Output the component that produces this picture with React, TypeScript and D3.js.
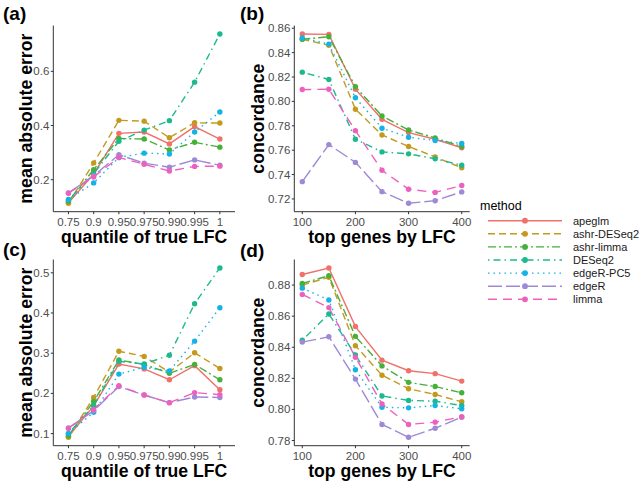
import React from "react";
import * as d3 from "d3";

const methods = ["apeglm", "ashr-DESeq2", "ashr-limma", "DESeq2", "edgeR-PC5", "edgeR", "limma"];
const colors = ["#F0706A", "#C49A1E", "#45B03A", "#1DB98E", "#13B3E6", "#9E89D6", "#EE60BE"];
const dashes = ["", "7,4", "8,3,2,3", "1.5,4,7,4", "1.5,4", "14,4", "9,6"];

const quantiles = ["0.75", "0.9", "0.95", "0.975", "0.99", "0.995", "1"];
const topGenes = [100, 150, 200, 250, 300, 350, 400];

// panel (a): mean absolute error by quantile
const maeA: number[][] = [
  [0.115, 0.221, 0.371, 0.376, 0.332, 0.396, 0.350],
  [0.113, 0.262, 0.419, 0.416, 0.355, 0.410, 0.409],
  [0.120, 0.237, 0.352, 0.350, 0.310, 0.338, 0.320],
  [0.125, 0.222, 0.342, 0.383, 0.418, 0.560, 0.738],
  [0.127, 0.188, 0.282, 0.298, 0.295, 0.376, 0.450],
  [0.151, 0.215, 0.292, 0.261, 0.246, 0.273, 0.253],
  [0.150, 0.210, 0.282, 0.257, 0.232, 0.249, 0.250],
];
// panel (b): concordance by top genes
const concB: number[][] = [
  [0.8553, 0.855, 0.810, 0.7853, 0.7744, 0.769, 0.762],
  [0.851, 0.846, 0.7936, 0.7725, 0.763, 0.7545, 0.7455],
  [0.851, 0.853, 0.812, 0.788, 0.7766, 0.770, 0.763],
  [0.824, 0.818, 0.769, 0.7586, 0.757, 0.753, 0.7476],
  [0.852, 0.847, 0.803, 0.778, 0.7706, 0.768, 0.7655],
  [0.7342, 0.7646, 0.750, 0.726, 0.7165, 0.7186, 0.7258],
  [0.8097, 0.810, 0.776, 0.7435, 0.728, 0.7254, 0.731],
];
// panel (c)
const maeC: number[][] = [
  [0.093, 0.169, 0.273, 0.261, 0.234, 0.269, 0.209],
  [0.091, 0.190, 0.305, 0.292, 0.253, 0.301, 0.262],
  [0.095, 0.180, 0.283, 0.272, 0.250, 0.272, 0.234],
  [0.100, 0.170, 0.280, 0.273, 0.295, 0.423, 0.512],
  [0.100, 0.153, 0.248, 0.265, 0.256, 0.330, 0.413],
  [0.114, 0.157, 0.217, 0.196, 0.177, 0.191, 0.190],
  [0.113, 0.160, 0.219, 0.196, 0.177, 0.202, 0.197],
];
// panel (d)
const concD: number[][] = [
  [0.8868, 0.891, 0.8533, 0.8317, 0.8249, 0.823, 0.8182],
  [0.880, 0.885, 0.841, 0.822, 0.8133, 0.8096, 0.8049],
  [0.881, 0.886, 0.847, 0.828, 0.8174, 0.8147, 0.8107],
  [0.8445, 0.8614, 0.835, 0.8086, 0.8058, 0.8053, 0.8025],
  [0.878, 0.8704, 0.8255, 0.8014, 0.801, 0.8025, 0.8004],
  [0.8433, 0.8467, 0.8195, 0.7903, 0.7821, 0.7879, 0.795],
  [0.874, 0.8655, 0.8336, 0.8035, 0.7903, 0.7918, 0.7953],
];

const ticksA = [0.2, 0.4, 0.6];
const ticksB = [0.72, 0.74, 0.76, 0.78, 0.8, 0.82, 0.84, 0.86];
const ticksC = [0.1, 0.2, 0.3, 0.4, 0.5];
const ticksD = [0.78, 0.8, 0.82, 0.84, 0.86, 0.88];
const ticksX = [100, 200, 300, 400];

const FONT = "'Liberation Sans', Arial, Helvetica, sans-serif";
const AXIS = "#333333";
const TICKTXT = "#4d4d4d";

function expandDomain(data: number[][]): [number, number] {
  const all = data.flat();
  const lo = d3.min(all) as number;
  const hi = d3.max(all) as number;
  const pad = (hi - lo) * 0.05;
  return [lo - pad, hi + pad];
}

type PanelProps = {
  label: string;
  data: number[][];
  discrete: boolean;
  yTicks: number[];
  yFmt: (v: number) => string;
  yTitle: string;
  xTitle: string;
  left: number;
  right: number;
  top: number;
  bottom: number;
  labelX: number;
  labelY: number;
  yTitleX: number;
};

function Panel(p: PanelProps) {
  const y = d3.scaleLinear().domain(expandDomain(p.data)).range([p.bottom, p.top]);
  let xs: number[];
  let xTickPos: { v: string; x: number }[];
  if (p.discrete) {
    const xp = d3.scalePoint<string>().domain(quantiles).range([p.left, p.right]).padding(0.6);
    xs = quantiles.map((q) => xp(q) as number);
    xTickPos = quantiles.map((q) => ({ v: q, x: xp(q) as number }));
  } else {
    const ext = d3.extent(topGenes) as [number, number];
    const pad = (ext[1] - ext[0]) * 0.05;
    const xl = d3.scaleLinear().domain([ext[0] - pad, ext[1] + pad]).range([p.left, p.right]);
    xs = topGenes.map((g) => xl(g));
    xTickPos = ticksX.map((t) => ({ v: String(t), x: xl(t) }));
  }
  const line = d3
    .line<number>()
    .x((_, i) => xs[i])
    .y((d) => y(d));
  const midY = (p.top + p.bottom) / 2;
  const midX = (p.left + p.right) / 2;
  return (
    <g>
      <text x={p.labelX} y={p.labelY} fontSize={19} fontWeight="bold" fontFamily={FONT} fill="#000">
        {p.label}
      </text>
      {p.data.map((row, i) => (
        <path
          key={"l" + i}
          d={line(row) as string}
          fill="none"
          stroke={colors[i]}
          strokeWidth={1.4}
          strokeDasharray={dashes[i] || undefined}
        />
      ))}
      {p.data.map((row, i) =>
        row.map((v, j) => <circle key={"p" + i + "-" + j} cx={xs[j]} cy={y(v)} r={2.7} fill={colors[i]} />)
      )}
      <line x1={p.left} x2={p.left} y1={p.top} y2={p.bottom} stroke={AXIS} strokeWidth={1} />
      <line x1={p.left} x2={p.right} y1={p.bottom} y2={p.bottom} stroke={AXIS} strokeWidth={1} />
      {p.yTicks.map((t) => (
        <g key={"yt" + t}>
          <line x1={p.left - 2.5} x2={p.left} y1={y(t)} y2={y(t)} stroke={AXIS} strokeWidth={1} />
          <text x={p.left - 4} y={y(t) + 4} fontSize={11.5} textAnchor="end" fontFamily={FONT} fill={TICKTXT}>
            {p.yFmt(t)}
          </text>
        </g>
      ))}
      {xTickPos.map((t) => (
        <g key={"xt" + t.v}>
          <line x1={t.x} x2={t.x} y1={p.bottom} y2={p.bottom + 2.5} stroke={AXIS} strokeWidth={1} />
          <text x={t.x} y={p.bottom + 14} fontSize={11.5} textAnchor="middle" fontFamily={FONT} fill={TICKTXT}>
            {t.v}
          </text>
        </g>
      ))}
      <text
        x={0}
        y={0}
        transform={`translate(${p.yTitleX},${midY}) rotate(-90)`}
        fontSize={17.7}
        fontWeight="bold"
        textAnchor="middle"
        fontFamily={FONT}
        fill="#000"
      >
        {p.yTitle}
      </text>
      <text x={midX} y={p.bottom + 31} fontSize={17.6} fontWeight="bold" textAnchor="middle" fontFamily={FONT} fill="#000">
        {p.xTitle}
      </text>
    </g>
  );
}

export default function App() {
  const f1 = d3.format(".1f");
  const f2 = d3.format(".2f");
  const L = [53.3, 235];
  const R = [294.3, 469.7];
  const T = [25.5, 211.7];
  const B = [259.5, 445.7];
  const legTop = 220.7;
  const legStep = 13.1;
  return (
    <svg
      width={643}
      height={486}
      style={{ position: "absolute", left: 0, top: 0, background: "#fff", display: "block" }}
    >
      <rect x={0} y={0} width={643} height={486} fill="#fff" />
      <Panel label="(a)" data={maeA} discrete yTicks={ticksA} yFmt={f1} yTitle="mean absolute error"
        xTitle="quantile of true LFC" left={L[0]} right={L[1]} top={T[0]} bottom={T[1]} labelX={3} labelY={20} yTitleX={31.5} />
      <Panel label="(b)" data={concB} discrete={false} yTicks={ticksB} yFmt={f2} yTitle="concordance"
        xTitle="top genes by LFC" left={R[0]} right={R[1]} top={T[0]} bottom={T[1]} labelX={240} labelY={20} yTitleX={263.5} />
      <Panel label="(c)" data={maeC} discrete yTicks={ticksC} yFmt={f1} yTitle="mean absolute error"
        xTitle="quantile of true LFC" left={L[0]} right={L[1]} top={B[0]} bottom={B[1]} labelX={3} labelY={256} yTitleX={31.5} />
      <Panel label="(d)" data={concD} discrete={false} yTicks={ticksD} yFmt={f2} yTitle="concordance"
        xTitle="top genes by LFC" left={R[0]} right={R[1]} top={B[0]} bottom={B[1]} labelX={240} labelY={257} yTitleX={263.5} />
      <g>
        <text x={480} y={210} fontSize={12.5} fontFamily={FONT} fill="#000">method</text>
        {methods.map((m, i) => {
          const cy = legTop + i * legStep;
          return (
            <g key={m}>
              <line x1={488} x2={562} y1={cy} y2={cy} stroke={colors[i]} strokeWidth={1.4}
                strokeDasharray={dashes[i] || undefined} />
              <circle cx={525} cy={cy} r={2.9} fill={colors[i]} />
              <text x={573} y={cy + 4} fontSize={11} fontFamily={FONT} fill="#1a1a1a">{m}</text>
            </g>
          );
        })}
      </g>
    </svg>
  );
}
